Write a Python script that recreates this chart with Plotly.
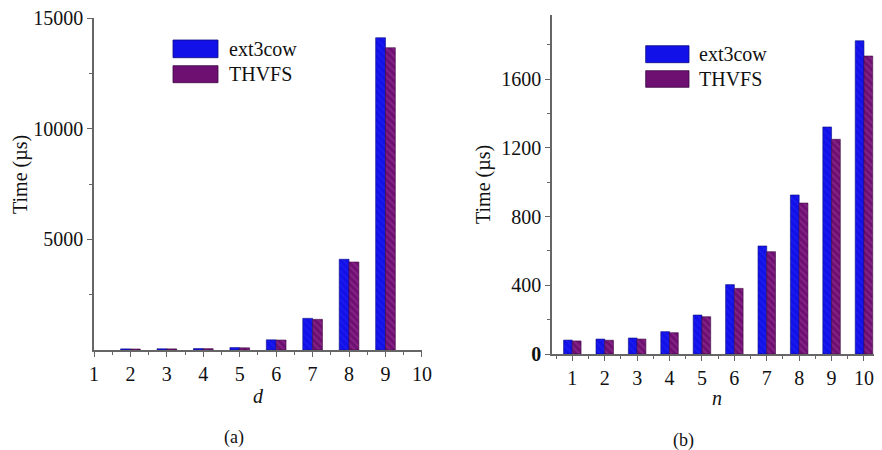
import plotly.graph_objects as go

# Panel (a)
d_vals = [2, 3, 4, 5, 6, 7, 8, 9]
a_ext3cow = [50, 55, 65, 110, 460, 1430, 4100, 14110]
a_thvfs = [45, 50, 60, 100, 450, 1385, 3975, 13660]

# Panel (b)
n_vals = [1, 2, 3, 4, 5, 6, 7, 8, 9, 10]
b_ext3cow = [81, 87, 93, 130, 227, 404, 629, 926, 1322, 1824]
b_thvfs = [76, 80, 87, 124, 217, 382, 596, 879, 1250, 1735]

a_yticks = [5000, 10000, 15000]
b_yticks = [0, 400, 800, 1200, 1600]

series_names = ["ext3cow", "THVFS"]
BLUE = "#1212e8"
PURPLE = "#6e0f72"
STRIPE = "#a03a9a"
FONT = "Liberation Serif, Times New Roman, Times, serif"

# page has an 8px body margin: figure is sized to fit the window
OFF = 8
W, H = 882 - OFF, 450 - OFF

def px(x):
    return (x - OFF) / W

def py(y):
    return 1 - (y - OFF) / H

fig = go.Figure()

def add_bars(x, ys, xa, ya):
    fig.add_trace(go.Bar(x=x, y=ys[0], name=series_names[0], xaxis=xa, yaxis=ya,
                         marker=dict(color=BLUE, line=dict(color="#0a0a80", width=0.6),
                                     pattern=dict(shape="\\", fgcolor="#3030ff", size=5, solidity=0.2)),
                         showlegend=False))
    fig.add_trace(go.Bar(x=x, y=ys[1], name=series_names[1], xaxis=xa, yaxis=ya,
                         marker=dict(color=PURPLE, line=dict(color="#3a0840", width=0.6),
                                     pattern=dict(shape="\\", fgcolor=STRIPE, size=5, solidity=0.35)),
                         showlegend=False))

add_bars(d_vals, [a_ext3cow, a_thvfs], "x", "y")
add_bars(n_vals, [b_ext3cow, b_thvfs], "x2", "y2")

axis_common = dict(showline=True, linecolor="#666666", linewidth=1.5, ticks="outside",
                   tickcolor="#666666", ticklen=5, showgrid=False, zeroline=False,
                   automargin=False, ticklabeloverflow="allow",
                   tickfont=dict(family=FONT, size=20, color="#111111"))

fig.update_layout(
    width=W, height=H, margin=dict(l=0, r=0, t=0, b=0),
    font=dict(family=FONT, size=20, color="#111111"),
    plot_bgcolor="white", paper_bgcolor="white",
    barmode="group", bargap=0.46, bargroupgap=0,
    xaxis=dict(domain=[px(94), px(422)], range=[1, 10.002], dtick=1, tick0=1,
               minor=dict(dtick=0.5, ticklen=3, ticks="outside", tickcolor="#666666"),
               anchor="y", **axis_common),
    yaxis=dict(domain=[py(350), py(18)], range=[0, 15002], tickvals=a_yticks,
               ticktext=[str(v) for v in a_yticks],
               minor=dict(tickvals=[2500, 7500, 12500], ticklen=3, ticks="outside", tickcolor="#666666"),
               anchor="x", **axis_common),
    xaxis2=dict(domain=[px(552), 1.0], range=[0.373, 10.556], dtick=1, tick0=1,
                minor=dict(dtick=0.5, ticklen=3, ticks="outside", tickcolor="#666666"),
                anchor="y2", **axis_common),
    yaxis2=dict(domain=[py(354), py(15)], range=[0, 1974], tickvals=b_yticks,
                ticktext=["<b>0</b>"] + [str(v) for v in b_yticks[1:]],
                minor=dict(dtick=200, ticklen=3, ticks="outside", tickcolor="#666666"),
                anchor="x2", **axis_common),
)

txt = dict(family=FONT, size=20, color="#111111")

annotations = [
    dict(text="Time (µs)", x=px(20), y=py(175), textangle=-90),
    dict(text="<i>d</i>", x=px(258), y=py(396)),
    dict(text="(a)", x=px(234), y=py(437), size=18),
    dict(text="Time (µs)", x=px(483), y=py(185), textangle=-90),
    dict(text="<i>n</i>", x=px(717), y=py(398)),
    dict(text="(b)", x=px(683), y=py(440), size=18),
]
for a in annotations:
    f = dict(txt)
    if "size" in a:
        f["size"] = a.pop("size")
    fig.add_annotation(xref="paper", yref="paper", showarrow=False, font=f,
                       xanchor="center", yanchor="middle", **a)

# custom legends (wide swatches)
legends = [
    (173, 218, 40, 57.7, 65.7, 82.7, 227),
    (645.7, 689, 45.7, 62.7, 70.7, 87.3, 697),
]
for (x0, x1, ey0, ey1, ty0, ty1, tx) in legends:
    for (yy0, yy1, col, lc, name) in [(ey0, ey1, BLUE, "#0a0a80", series_names[0]),
                                      (ty0, ty1, PURPLE, "#3a0840", series_names[1])]:
        fig.add_shape(type="rect", xref="paper", yref="paper",
                      x0=px(x0), x1=px(x1), y0=py(yy1), y1=py(yy0),
                      fillcolor=col, line=dict(color=lc, width=0.8))
        fig.add_annotation(xref="paper", yref="paper", x=px(tx), y=py((yy0 + yy1) / 2),
                           text=name, showarrow=False, xanchor="left", yanchor="middle",
                           font=txt)

fig.write_html("out.html")
